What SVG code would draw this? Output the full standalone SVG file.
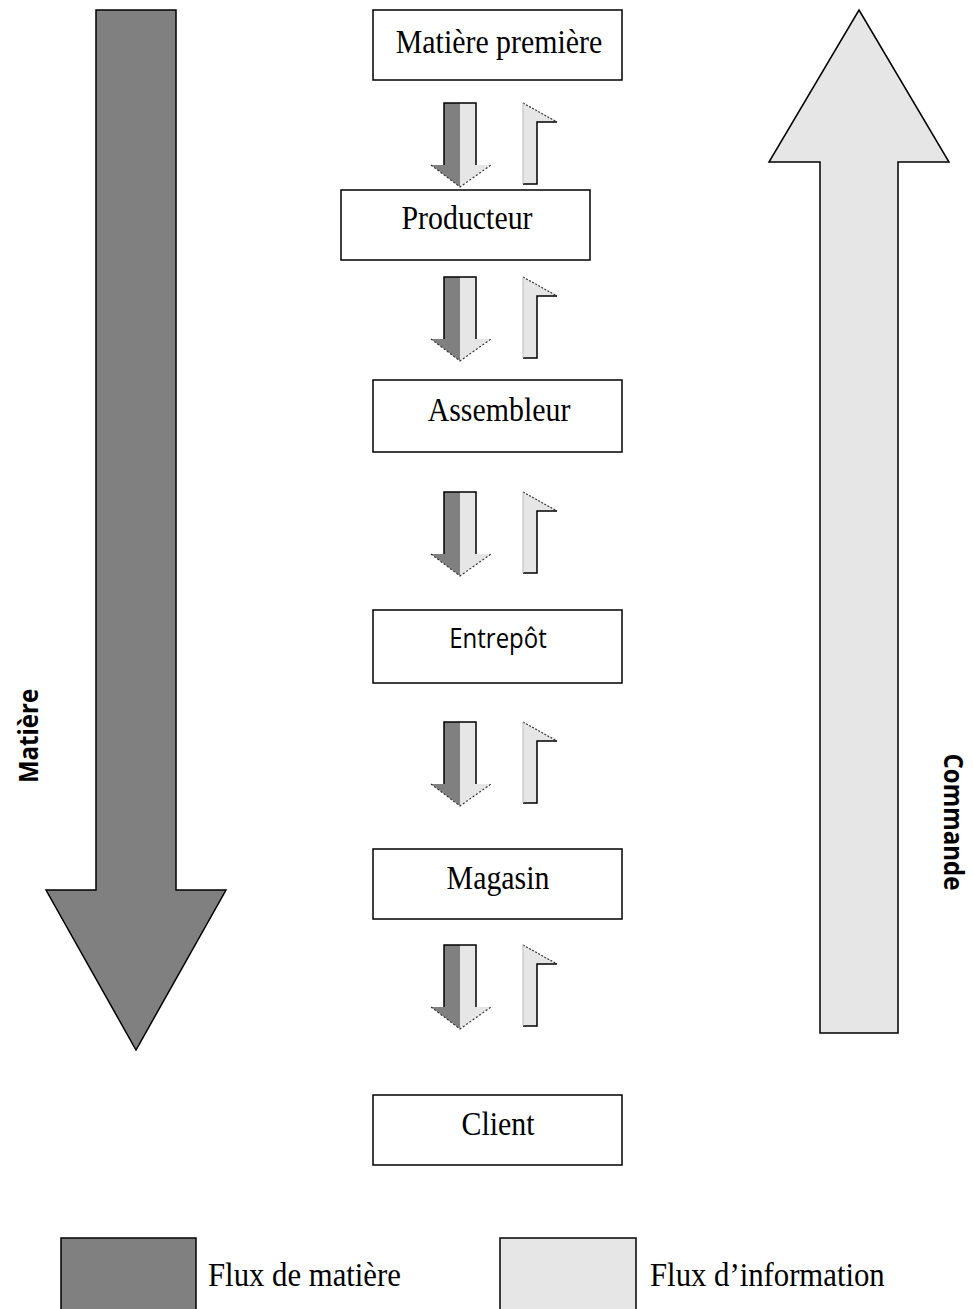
<svg xmlns="http://www.w3.org/2000/svg" xmlns:xlink="http://www.w3.org/1999/xlink" width="973" height="1309" viewBox="0 0 973 1309">
  <style>
    .box { fill: #ffffff; stroke: #000000; stroke-width: 1.5; }
    .lbl { font-family: "Liberation Serif", "Times New Roman", serif; font-size: 29px; fill: #000; text-anchor: middle; }
    .lbl-sans { font-family: "Open Sans", "Noto Sans", sans-serif; font-size: 24px; fill: #000; text-anchor: middle; }
    .side { font-family: "Open Sans", "Noto Sans", sans-serif; font-weight: bold; font-size: 24px; fill: #000; text-anchor: middle; }
    .legend { font-family: "Liberation Serif", "Times New Roman", serif; font-size: 29px; fill: #000; }
    .dark { fill: #808080; }
    .light { fill: #e6e6e6; }
  </style>
  <defs>
    <!-- small pair: material arrow (down) + information flag (up) -->
    <symbol id="pair" overflow="visible">
      <rect x="444" y="0" width="16" height="62" fill="#808080"/>
      <rect x="460" y="0" width="16" height="62" fill="#e6e6e6"/>
      <polygon points="431,62 460,62 460,84" fill="#808080"/>
      <polygon points="460,62 491,62 460,84" fill="#e6e6e6"/>
      <polyline points="444,62 444,0 476,0 476,62" fill="none" stroke="#000" stroke-width="1.5"/>
      <polyline points="431,62 460,84 491,62" fill="none" stroke="#333" stroke-width="1.2" stroke-dasharray="2,2"/>
      <polygon points="523,0 557,19 537,19 537,81 523,81" fill="#e6e6e6"/>
      <polyline points="523,0 557,19" fill="none" stroke="#333" stroke-width="1.2" stroke-dasharray="2,1.5"/>
      <polyline points="557,19 537,19 537,81 523,81" fill="none" stroke="#000" stroke-width="1.5"/>
      <line x1="523" y1="0" x2="523" y2="81" stroke="#bbb" stroke-width="1"/>
    </symbol>
  </defs>

  <!-- large side arrows -->
  <g id="flow-matiere">
    <polygon class="dark" points="96,10 176,10 176,890 226,890 136,1050 46,890 96,890" stroke="#000" stroke-width="1.5"/>
    <text class="side" transform="translate(38,736) rotate(-90) scale(1,1.15)">Matière</text>
  </g>
  <g id="flow-commande">
    <polygon class="light" points="859,10 949,162 898,162 898,1033 820,1033 820,162 769,162" stroke="#000" stroke-width="1.5"/>
    <text class="side" transform="translate(944,822) rotate(90) scale(1,1.15)">Commande</text>
  </g>

  <!-- chain nodes -->
  <g id="node-matiere-premiere">
    <rect class="box" x="373" y="10" width="249" height="70"/>
    <text class="lbl" transform="translate(499,53) scale(1.03,1.18)">Matière première</text>
  </g>
  <g id="node-producteur">
    <rect class="box" x="341" y="190" width="249" height="70"/>
    <text class="lbl" transform="translate(467,229) scale(1.03,1.18)">Producteur</text>
  </g>
  <g id="node-assembleur">
    <rect class="box" x="373" y="380" width="249" height="72"/>
    <text class="lbl" transform="translate(499,421) scale(1.03,1.18)">Assembleur</text>
  </g>
  <g id="node-entrepot">
    <rect class="box" x="373" y="610" width="249" height="73"/>
    <text class="lbl-sans" transform="translate(498,648) scale(1,1.12)">Entrepôt</text>
  </g>
  <g id="node-magasin">
    <rect class="box" x="373" y="849" width="249" height="70"/>
    <text class="lbl" transform="translate(498,889) scale(1.03,1.18)">Magasin</text>
  </g>
  <g id="node-client">
    <rect class="box" x="373" y="1095" width="249" height="70"/>
    <text class="lbl" transform="translate(498,1135) scale(1.03,1.18)">Client</text>
  </g>

  <!-- connectors between nodes -->
  <g id="connectors">
    <use xlink:href="#pair" href="#pair" x="0" y="103"/>
    <use xlink:href="#pair" href="#pair" x="0" y="277"/>
    <use xlink:href="#pair" href="#pair" x="0" y="492"/>
    <use xlink:href="#pair" href="#pair" x="0" y="722"/>
    <use xlink:href="#pair" href="#pair" x="0" y="945"/>
  </g>

  <!-- legend -->
  <g id="legend">
    <rect class="dark" x="61" y="1238" width="135" height="75" stroke="#000" stroke-width="1.5"/>
    <text class="legend" transform="translate(208,1286) scale(1.06,1.18)">Flux de matière</text>
    <rect class="light" x="500" y="1238" width="136" height="75" stroke="#000" stroke-width="1.5"/>
    <text class="legend" transform="translate(650,1286) scale(1.06,1.18)">Flux d’information</text>
  </g>
</svg>
